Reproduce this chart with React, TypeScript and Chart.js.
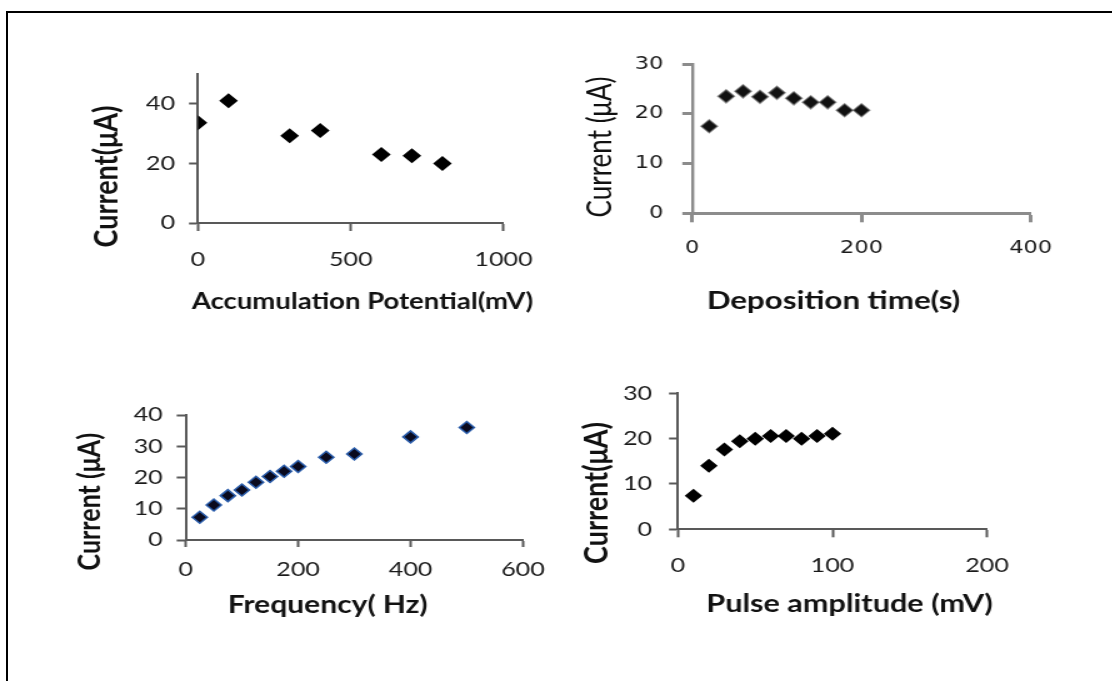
import React, { useEffect, useRef } from 'react';
import { Chart, registerables } from 'chart.js';

Chart.register(...registerables);

// ---------- data ----------
const ACC_POTENTIAL = [0, 100, 300, 400, 600, 700, 800];
const ACC_CURRENT = [33.6, 41.0, 29.3, 31.0, 23.0, 22.6, 20.0];
const ACC_X_TICKS = [0, 500, 1000];
const ACC_Y_TICKS = [0, 20, 40];
const ACC_Y_MAX = 50;

const DEP_TIME = [20, 40, 60, 80, 100, 120, 140, 160, 180, 200];
const DEP_CURRENT = [17.5, 23.5, 24.5, 23.4, 24.2, 23.1, 22.3, 22.3, 20.7, 20.7];
const DEP_X_TICKS = [0, 200, 400];
const DEP_Y_TICKS = [0, 10, 20, 30];

const FREQ = [25, 50, 75, 100, 125, 150, 175, 200, 250, 300, 400, 500];
const FREQ_CURRENT = [7.3, 11.2, 14.2, 16.0, 18.5, 20.3, 22.0, 23.5, 26.5, 27.5, 33.0, 36.0];
const FREQ_X_TICKS = [0, 200, 400, 600];
const FREQ_Y_TICKS = [0, 10, 20, 30, 40];

const PULSE_AMP = [10, 20, 30, 40, 50, 60, 70, 80, 90, 100];
const PULSE_CURRENT = [7.4, 14.0, 17.6, 19.4, 20.0, 20.6, 20.6, 20.0, 20.6, 21.1];
const PULSE_X_TICKS = [0, 100, 200];
const PULSE_Y_TICKS = [0, 10, 20, 30];

// ---------- layout ----------
const S = 1.25; // horizontal stretch of the rendering

type Box = { left: number; top: number; right: number; bottom: number };
type TitleItem = { text: string; x: number; y: number; size: number; weight: string; family: string; rotate?: boolean; color: string; spacing?: number };
type Spec = {
  key: string;
  xs: number[]; ys: number[];
  xTicks: number[]; yTicks: number[]; yMax?: number;
  box: Box; area: Box;
  tickFont: { family: string; size: number };
  tickColor: string;
  axisColor: string;
  xBorderW: number; yBorderW: number;
  xTickLen: number; yTickLenReal: number;
  yLabelGapReal: number; xLabelCenterOffset: number;
  pointR: number; pointFill: string; pointBorder: string; pointBorderW: number;
  titles: TitleItem[];
};

const LATO = 'Lato, "Open Sans", sans-serif';
const DEJAVU = '"DejaVu Sans", Verdana, sans-serif';

const SPECS: Spec[] = [
  {
    key: 'acc', xs: ACC_POTENTIAL, ys: ACC_CURRENT, xTicks: ACC_X_TICKS, yTicks: ACC_Y_TICKS, yMax: ACC_Y_MAX,
    box: { left: 40, top: 40, right: 560, bottom: 330 },
    area: { left: 198, right: 503.5, top: 74, bottom: 223 },
    tickFont: { family: LATO, size: 20 }, tickColor: '#1a1a1a', axisColor: '#595959',
    xBorderW: 2, yBorderW: 2, xTickLen: 8, yTickLenReal: 9, yLabelGapReal: 23, xLabelCenterOffset: 36.5,
    pointR: 7.5, pointFill: '#000000', pointBorder: '#000000', pointBorderW: 0,
    titles: [
      { text: 'Accumulation Potential(mV)', x: 362.5, y: 302, size: 22, weight: 'bold', family: LATO, color: '#111111' },
      { text: 'Current(μA)', x: 107, y: 176.5, size: 27, weight: 'bold', family: LATO, color: '#111111', rotate: true },
    ],
  },
  {
    key: 'dep', xs: DEP_TIME, ys: DEP_CURRENT, xTicks: DEP_X_TICKS, yTicks: DEP_Y_TICKS,
    box: { left: 570, top: 30, right: 1100, bottom: 330 },
    area: { left: 692.3, right: 1030.7, top: 64, bottom: 213.3 },
    tickFont: { family: DEJAVU, size: 18 }, tickColor: '#1a1a1a', axisColor: '#8c8c8c',
    xBorderW: 3, yBorderW: 2.4, xTickLen: 9, yTickLenReal: 10, yLabelGapReal: 29, xLabelCenterOffset: 34.7,
    pointR: 6.5, pointFill: '#111111', pointBorder: 'rgba(90,90,90,0.6)', pointBorderW: 1.5,
    titles: [
      { text: 'Deposition time(s)', x: 833.5, y: 301, size: 25, weight: 'bold', family: LATO, color: '#111111' },
      { text: 'Current (μA)', x: 600.5, y: 147, size: 26, weight: 'normal', family: LATO, color: '#111111', rotate: true },
    ],
  },
  {
    key: 'freq', xs: FREQ, ys: FREQ_CURRENT, xTicks: FREQ_X_TICKS, yTicks: FREQ_Y_TICKS,
    box: { left: 40, top: 360, right: 560, bottom: 660 },
    area: { left: 185.7, right: 523, top: 415, bottom: 540 },
    tickFont: { family: LATO, size: 20 }, tickColor: '#1a1a1a', axisColor: '#595959',
    xBorderW: 2, yBorderW: 2, xTickLen: 7, yTickLenReal: 9, yLabelGapReal: 23, xLabelCenterOffset: 30,
    pointR: 6, pointFill: '#0a0a1e', pointBorder: '#2a5caa', pointBorderW: 1.5,
    titles: [
      { text: 'Frequency( Hz)', x: 327.7, y: 605, size: 24, weight: 'bold', family: LATO, color: '#111111' },
      { text: 'Current (μA)', x: 90, y: 501.7, size: 25, weight: 'bold', family: LATO, color: '#111111', rotate: true },
    ],
  },
  {
    key: 'pulse', xs: PULSE_AMP, ys: PULSE_CURRENT, xTicks: PULSE_X_TICKS, yTicks: PULSE_Y_TICKS,
    box: { left: 570, top: 360, right: 1100, bottom: 660 },
    area: { left: 678, right: 987, top: 393.3, bottom: 529.3 },
    tickFont: { family: LATO, size: 20 }, tickColor: '#1a1a1a', axisColor: '#595959',
    xBorderW: 2, yBorderW: 2, xTickLen: 8, yTickLenReal: 9, yLabelGapReal: 26, xLabelCenterOffset: 36.2,
    pointR: 7, pointFill: '#000000', pointBorder: '#000000', pointBorderW: 0,
    titles: [
      { text: 'Pulse amplitude (mV)', x: 849.6, y: 604, size: 24.5, weight: 'bold', family: LATO, color: '#111111' },
      { text: 'Current(μA)', x: 596, y: 493, size: 27, weight: 'bold', family: LATO, color: '#111111', rotate: true },
    ],
  },
];

function makeTitlesPlugin(items: TitleItem[], box: Box) {
  return {
    id: 'panelTitles',
    afterDraw(chart: any) {
      const ctx = chart.ctx as CanvasRenderingContext2D;
      for (const t of items) {
        ctx.save();
        ctx.font = `${t.weight} ${t.size}px ${t.family}`;
        ctx.fillStyle = t.color;
        ctx.textAlign = 'center';
        ctx.textBaseline = 'middle';
        if (t.spacing) (ctx as any).letterSpacing = `${t.spacing}px`;
        ctx.translate((t.x - box.left) / S, t.y - box.top);
        if (t.rotate) ctx.rotate(-Math.PI / 2);
        ctx.fillText(t.text, 0, 0);
        ctx.restore();
      }
    },
  };
}

function Panel({ spec }: { spec: Spec }) {
  const ref = useRef<HTMLCanvasElement | null>(null);
  const W = Math.round((spec.box.right - spec.box.left) / S);
  const H = spec.box.bottom - spec.box.top;

  useEffect(() => {
    const canvas = ref.current;
    if (!canvas) return;
    const { box, area } = spec;
    const yAxisW = (area.left - box.left) / S;
    const padRight = W - (area.right - box.left) / S;
    const padTop = area.top - box.top;
    const xAxisH = H - (area.bottom - box.top);
    const yTickLen = spec.yTickLenReal / S;
    const yPad = spec.yLabelGapReal / S - yTickLen;
    const xPad = spec.xLabelCenterOffset - spec.xTickLen - spec.tickFont.size * 0.6;
    const xMax = spec.xTicks[spec.xTicks.length - 1];
    const yMax = spec.yMax ?? spec.yTicks[spec.yTicks.length - 1];
    const plain = (v: any) => String(v);

    const chart = new Chart(canvas, {
      type: 'scatter',
      data: {
        datasets: [
          {
            data: spec.xs.map((x, i) => ({ x, y: spec.ys[i] })),
            pointStyle: 'rectRot',
            pointRadius: spec.pointR,
            backgroundColor: spec.pointFill,
            borderColor: spec.pointBorder,
            borderWidth: spec.pointBorderW,
            showLine: false,
          } as any,
        ],
      },
      options: {
        animation: false,
        responsive: false,
        devicePixelRatio: 1,
        events: [],
        layout: { padding: { left: 0, right: padRight, top: padTop, bottom: 0 } },
        plugins: { legend: { display: false }, tooltip: { enabled: false } },
        scales: {
          x: {
            type: 'linear',
            min: 0,
            max: xMax,
            afterBuildTicks: (s: any) => { s.ticks = spec.xTicks.map((v) => ({ value: v })); },
            afterFit: (s: any) => { s.height = xAxisH; },
            grid: { display: true, drawOnChartArea: false, drawTicks: true, tickLength: spec.xTickLen, tickColor: spec.axisColor, tickWidth: spec.xBorderW },
            border: { display: true, color: spec.axisColor, width: spec.xBorderW },
            ticks: { font: spec.tickFont, color: spec.tickColor, padding: xPad, maxRotation: 0, minRotation: 0, autoSkip: false, callback: plain },
          },
          y: {
            type: 'linear',
            min: 0,
            max: yMax,
            afterBuildTicks: (s: any) => { s.ticks = spec.yTicks.map((v) => ({ value: v })); },
            afterFit: (s: any) => { s.width = yAxisW; },
            grid: { display: true, drawOnChartArea: false, drawTicks: true, tickLength: yTickLen, tickColor: spec.axisColor, tickWidth: spec.xBorderW },
            border: { display: true, color: spec.axisColor, width: spec.yBorderW },
            ticks: { font: spec.tickFont, color: spec.tickColor, padding: yPad, autoSkip: false, callback: plain },
          },
        },
      } as any,
      plugins: [makeTitlesPlugin(spec.titles, spec.box)],
    });
    return () => chart.destroy();
  }, [spec, W, H]);

  return (
    <canvas
      ref={ref}
      width={W}
      height={H}
      style={{ position: 'absolute', left: spec.box.left, top: spec.box.top, width: W * S, height: H }}
    />
  );
}

export default function App() {
  return (
    <div style={{ position: 'absolute', left: 0, top: 0, width: 1112, height: 681, background: '#ffffff', overflow: 'hidden' }}>
      <div style={{ position: 'absolute', left: 6, top: 11, right: 0, bottom: 0, borderTop: '2px solid #000', borderLeft: '2px solid #000' }} />
      {SPECS.map((s) => (
        <Panel key={s.key} spec={s} />
      ))}
    </div>
  );
}
